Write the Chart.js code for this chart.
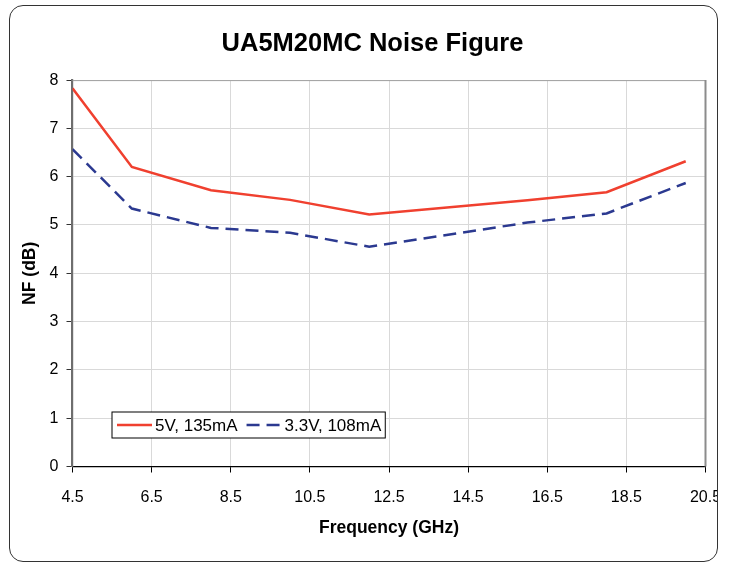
<!DOCTYPE html>
<html lang="en">
<head>
  <meta charset="UTF-8" />
  <title>UA5M20MC Noise Figure</title>
  <style>
    body { margin: 0; background: #fff; }
    .c-panel {
      position: absolute;
      left: 9px;
      top: 5px;
      width: 707px;
      height: 555px;
      border: 1.5px solid #333;
      border-radius: 14px;
      overflow: hidden;
    }
  </style>
</head>
<body>
  <div class="c-panel">
    <canvas id="nfChart" width="707" height="555"></canvas>
  </div>

  <script src="https://cdn.jsdelivr.net/npm/chart.js"></script>
  <script>
    // frequencies (GHz) and noise figure (dB)
    const freqs = [4.5, 6, 8, 10, 12, 16, 18, 20];
    const nf5V = [7.83, 6.2, 5.72, 5.52, 5.22, 5.51, 5.68, 6.32];
    const nf33V = [6.57, 5.34, 4.94, 4.84, 4.55, 5.05, 5.24, 5.87];
    const xTicks = [4.5, 6.5, 8.5, 10.5, 12.5, 14.5, 16.5, 18.5, 20.5];
    const seriesNames = ['5V, 135mA', '3.3V, 108mA'];

    const FONT = "'Liberation Sans', Arial, sans-serif";

    function toPoints(ys) {
      return freqs.map((f, i) => ({ x: f, y: ys[i] }));
    }

    // grey frame on top and right of the plot area
    const plotFrame = {
      id: 'plotFrame',
      beforeDatasetsDraw(chart) {
        const { ctx, chartArea: a } = chart;
        ctx.save();
        ctx.strokeStyle = '#a0a0a0';
        ctx.lineWidth = 1;
        ctx.beginPath();
        ctx.moveTo(a.left, a.top + 0.5);
        ctx.lineTo(a.right, a.top + 0.5);
        ctx.stroke();
        ctx.strokeStyle = '#8c8c8c';
        ctx.lineWidth = 2;
        ctx.beginPath();
        ctx.moveTo(a.right, a.top);
        ctx.lineTo(a.right, a.bottom);
        ctx.stroke();
        ctx.restore();
      }
    };

    // boxed legend inside the plot, lower left
    const boxLegend = {
      id: 'boxLegend',
      afterDraw(chart) {
        const { ctx, chartArea: a } = chart;
        const sets = chart.data.datasets;
        ctx.save();
        ctx.font = '17px ' + FONT;
        const sampleLen = 35, left = a.left + 39.5, top = a.bottom - 54.5, h = 26;
        let w = 5;
        sets.forEach((ds, i) => {
          w += sampleLen + 3 + ctx.measureText(ds.label).width + (i < sets.length - 1 ? 9 : 4);
        });
        ctx.fillStyle = '#fff';
        ctx.fillRect(left, top, w, h);
        ctx.strokeStyle = '#000';
        ctx.lineWidth = 1;
        ctx.strokeRect(left, top, w, h);

        let x = left + 5;
        const cy = top + h / 2;
        sets.forEach(ds => {
          ctx.strokeStyle = ds.borderColor;
          ctx.lineWidth = ds.borderWidth;
          ctx.setLineDash(ds.borderDash || []);
          ctx.beginPath();
          ctx.moveTo(x, cy);
          ctx.lineTo(x + sampleLen, cy);
          ctx.stroke();
          ctx.setLineDash([]);
          x += sampleLen + 3;
          ctx.fillStyle = '#000';
          ctx.textBaseline = 'middle';
          ctx.fillText(ds.label, x, cy + 1);
          x += ctx.measureText(ds.label).width + 9;
        });
        ctx.restore();
      }
    };

    new Chart(document.getElementById('nfChart'), {
      type: 'line',
      data: {
        datasets: [{
          label: seriesNames[0],
          data: toPoints(nf5V),
          borderColor: '#f0402f',
          borderWidth: 2.5,
          pointRadius: 0,
          tension: 0
        }, {
          label: seriesNames[1],
          data: toPoints(nf33V),
          borderColor: '#2b3990',
          borderWidth: 2.5,
          borderDash: [13, 7],
          pointRadius: 0,
          tension: 0
        }]
      },
      options: {
        responsive: false,
        animation: false,
        // left padding pushes the centred title to the right, like the original
        layout: { padding: { top: 0, left: 18, right: 0, bottom: 0 } },
        plugins: {
          legend: { display: false },
          tooltip: { enabled: false },
          title: {
            display: true,
            text: 'UA5M20MC Noise Figure',
            color: '#000',
            font: { family: FONT, size: 25.5, weight: 'bold', lineHeight: 1.2 },
            padding: { top: 23, bottom: 20.5 }
          }
        },
        scales: {
          x: {
            type: 'linear',
            min: 4.5,
            max: 20.5,
            afterBuildTicks: s => { s.ticks = xTicks.map(v => ({ value: v })); },
            afterFit: s => { s.paddingLeft = 0; s.paddingRight = 11.5; s.height = 94.5; },
            ticks: {
              color: '#000',
              font: { family: FONT, size: 16 },
              padding: 15,
              maxRotation: 0,
              autoSkip: false,
              callback: v => v.toFixed(1)
            },
            grid: { color: '#d9d9d9', tickColor: '#000', tickLength: 6 },
            border: { color: '#000', width: 1.2 },
            title: {
              display: true,
              text: 'Frequency (GHz)',
              color: '#000',
              font: { family: FONT, size: 17.5, weight: 'bold', lineHeight: 1.2 },
              padding: { top: 0, bottom: 22 }
            }
          },
          y: {
            min: 0,
            max: 8,
            afterFit: s => { s.width = 44.5; s.paddingTop = 0; s.paddingBottom = 0; },
            ticks: {
              stepSize: 1,
              color: '#000',
              font: { family: FONT, size: 16 },
              padding: 8
            },
            grid: { color: '#d9d9d9', tickColor: '#333', tickLength: 6 },
            border: { color: '#6e6e6e', width: 2.2 },
            title: {
              display: true,
              text: 'NF (dB)',
              color: '#000',
              font: { family: FONT, size: 17.5, weight: 'bold', lineHeight: 1.2 },
              padding: { top: -8.5, bottom: 0 }
            }
          }
        }
      },
      plugins: [plotFrame, boxLegend]
    });
  </script>
</body>
</html>
